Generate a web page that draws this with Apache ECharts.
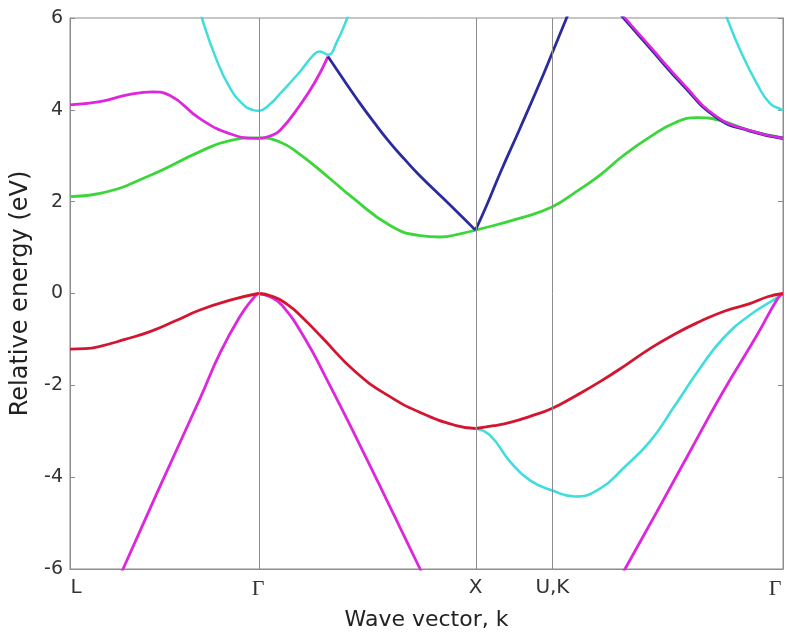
<!DOCTYPE html>
<html>
<head>
<meta charset="utf-8">
<script src="https://cdn.jsdelivr.net/npm/echarts@6/dist/echarts.min.js"></script>
<style>
html,body{margin:0;padding:0;background:#ffffff;}
#chart{width:787px;height:637px;}
</style>
</head>
<body>
<div id="chart"></div>
<script>
// High-symmetry points (k-path distance) and their labels
const kPoints = [0, 0.866, 1.866, 2.220, 3.281];
const kLabels = ['L', 'Γ', 'X', 'U,K', 'Γ'];
const symLines = [0.866, 1.866, 2.220];

// Energy axis
const yMin = -6, yMax = 6, yStep = 2;

// Bands: [k, E] pairs
const redLG = [[0,-1.21],[0.07,-1.20],[0.138,-1.15],[0.253,-1.00],[0.368,-0.83],[0.483,-0.60],[0.598,-0.36],[0.75,-0.13],[0.866,0]];
const redGX = [[0.866,0],[0.93,-0.06],[1.003,-0.25],[1.08,-0.57],[1.160,-0.96],[1.312,-1.70],[1.463,-2.22],[1.620,-2.61],[1.772,-2.87],[1.866,-2.94]];
const redXG = [[1.866,-2.94],[1.95,-2.88],[2.03,-2.80],[2.12,-2.67],[2.220,-2.50],[2.33,-2.22],[2.439,-1.92],[2.554,-1.57],[2.669,-1.20],[2.784,-0.88],[2.899,-0.61],[3.014,-0.38],[3.129,-0.22],[3.21,-0.07],[3.281,0]];

const lhLG = [[0.184,-6.6],[0.244,-6.0],[0.414,-4.2],[0.598,-2.29],[0.690,-1.30],[0.782,-0.50],[0.84,-0.12],[0.866,0]];
const lhGX = [[0.866,0],[0.92,-0.07],[0.976,-0.26],[1.081,-0.98],[1.187,-1.92],[1.312,-3.09],[1.519,-5.1],[1.611,-6.0],[1.657,-6.45]];
const lhKG = [[2.508,-6.4],[2.554,-6.0],[2.701,-4.75],[2.853,-3.44],[3.005,-2.14],[3.161,-0.91],[3.258,-0.1],[3.281,0]];

const cyanLowXG = [[1.866,-2.94],[1.933,-3.09],[2.025,-3.66],[2.117,-4.07],[2.220,-4.29],[2.324,-4.42],[2.439,-4.25],[2.545,-3.81],[2.669,-3.22],[2.775,-2.50],[2.899,-1.63],[3.005,-0.98],[3.129,-0.47],[3.258,-0.08],[3.281,0]];

const greenAll = [[0,2.11],[0.138,2.18],[0.368,2.57],[0.598,3.09],[0.736,3.33],[0.866,3.39],[0.966,3.30],[1.058,3.03],[1.197,2.50],[1.289,2.13],[1.473,1.48],[1.611,1.26],[1.703,1.23],[1.795,1.30],[1.866,1.38],[2.071,1.64],[2.220,1.89],[2.33,2.22],[2.439,2.58],[2.545,3.00],[2.669,3.41],[2.784,3.72],[2.885,3.83],[2.991,3.77],[3.129,3.55],[3.281,3.39]];

const magUp = [[0,4.11],[0.138,4.18],[0.27,4.33],[0.382,4.39],[0.46,4.31],[0.598,3.81],[0.736,3.48],[0.866,3.38],[0.920,3.43],[0.966,3.55],[1.058,4.10],[1.127,4.60],[1.187,5.16]];
const blueGX = [[1.187,5.16],[1.26,4.65],[1.321,4.23],[1.40,3.72],[1.473,3.28],[1.54,2.92],[1.611,2.56],[1.749,1.93],[1.866,1.38]];
const blueXU = [[1.866,1.38],[1.92,1.95],[1.979,2.62],[2.071,3.60],[2.163,4.60],[2.220,5.25],[2.285,6.0],[2.33,6.5]];

const cyanUp = [[0.575,6.55],[0.607,6.0],[0.667,5.18],[0.736,4.48],[0.805,4.08],[0.84,4.0],[0.866,3.98],[0.920,4.12],[0.966,4.35],[1.058,4.83],[1.118,5.18],[1.150,5.27],[1.187,5.20],[1.229,5.49],[1.275,5.99],[1.30,6.3]];
const cyanUpKG = [[2.99,6.4],[3.023,6.0],[3.083,5.31],[3.161,4.57],[3.221,4.14],[3.276,4.0],[3.281,3.98]];

const magKG = [[2.508,6.25],[2.554,6.0],[2.669,5.38],[2.821,4.57],[2.977,3.85],[3.129,3.55],[3.281,3.38]];
const blueKG = [[2.505,6.23],[2.554,5.97],[2.669,5.35],[2.821,4.54],[2.977,3.83],[3.129,3.54],[3.281,3.38]];

const RED = '#d41530', MAG = '#dd26dd', GREEN = '#3ad63a', CYAN = '#3fdede', BLUE = '#2b2ba0';
const GRAY = '#8c8c8c';

function band(data, color, w) {
  return {
    type: 'line', data: data, smooth: 0.5, showSymbol: false, clip: true,
    lineStyle: { color: color, width: w || 2.8 }, itemStyle: { color: color },
    silent: true
  };
}

const series = [
  {
    type: 'line', data: [], silent: true,
    markLine: {
      silent: true, symbol: ['none', 'none'], label: { show: false },
      lineStyle: { color: GRAY, width: 1, type: 'solid' },
      data: symLines.map(v => ({ xAxis: v }))
    }
  },
  band(cyanUp, CYAN, 2.5),
  band(cyanUpKG, CYAN, 2.5),
  band(cyanLowXG, CYAN, 2.6),
  band(greenAll, GREEN),
  band(magUp, MAG),
  band(lhLG, MAG),
  band(lhGX, MAG),
  band(lhKG, MAG),
  band(blueKG, BLUE, 3.2),
  band(magKG, MAG, 2.6),
  band(redLG, RED),
  band(redGX, RED),
  band(redXG, RED),
  band(blueGX, BLUE),
  band(blueXU, BLUE)
];

const chart = echarts.init(document.getElementById('chart'), null, { renderer: 'canvas' });
chart.setOption({
  animation: false,
  backgroundColor: '#ffffff',
  grid: { left: 70, right: 4, top: 18, bottom: 68, show: true, borderColor: GRAY, borderWidth: 1, backgroundColor: 'transparent' },
  xAxis: {
    type: 'value', min: kPoints[0], max: kPoints[kPoints.length - 1],
    name: 'Wave vector, k', nameLocation: 'middle', nameGap: 40,
    nameTextStyle: { fontFamily: 'DejaVu Sans', fontSize: 22, color: '#222' },
    axisLine: { show: true, onZero: false, lineStyle: { color: GRAY, width: 1 } },
    axisTick: { show: false },
    splitLine: { show: false },
    axisLabel: {
      customValues: kPoints,
      margin: 9,
      fontFamily: 'DejaVu Sans', fontSize: 20, color: '#333',
      formatter: function (v, idx) {
        let i = kPoints.findIndex(p => Math.abs(p - v) < 1e-6);
        if (i < 0) i = idx;
        const t = kLabels[i];
        if (i === 0) return '{first|' + t + '}';
        if (i === kPoints.length - 1) return '{last|' + t + '}';
        if (t === 'Γ') return '{g|' + t + '}';
        return t;
      },
      rich: {
        first: { fontFamily: 'DejaVu Sans', fontSize: 20, color: '#333', padding: [0, 0, 0, 12] },
        g: { fontFamily: 'Liberation Serif', fontSize: 22, color: '#333' },
        last: { fontFamily: 'Liberation Serif', fontSize: 22, color: '#333', padding: [0, 16, 0, 0] }
      }
    }
  },
  yAxis: [{
    type: 'value', min: yMin, max: yMax, interval: yStep,
    name: 'Relative energy (eV)', nameLocation: 'middle', nameGap: 27,
    nameTextStyle: { fontFamily: 'DejaVu Sans', fontSize: 24, color: '#222' },
    axisLine: { show: true, onZero: false, lineStyle: { color: GRAY, width: 1 } },
    axisTick: { show: true, inside: true, length: 5, lineStyle: { color: GRAY } },
    splitLine: { show: false },
    axisLabel: { margin: 7, fontFamily: 'DejaVu Sans', fontSize: 19, color: '#333' }
  }, {
    type: 'value', min: yMin, max: yMax, interval: yStep, position: 'right',
    axisLine: { show: true, onZero: false, lineStyle: { color: GRAY, width: 1 } },
    axisTick: { show: true, inside: true, length: 5, lineStyle: { color: GRAY } },
    splitLine: { show: false },
    axisLabel: { show: false }
  }],
  series: series
});
</script>
</body>
</html>
